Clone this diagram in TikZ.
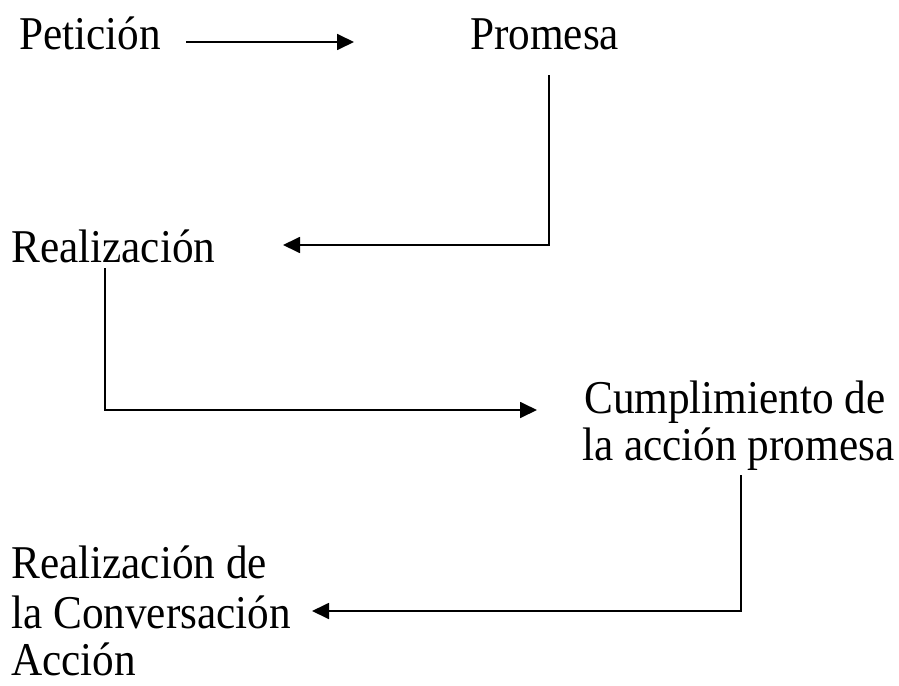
\documentclass[tikz,border=0pt]{standalone}
\usepackage{fontspec}
\setmainfont{Liberation Serif}[FakeStretch=0.92]
\usetikzlibrary{arrows.meta}
\tikzset{
  lbl/.style={anchor=base west, inner sep=0pt, font=\fontsize{47}{50}\selectfont},
  conn/.style={line width=1.8pt, -{Triangle[length=17pt,width=16pt]}}
}
\begin{document}
\begin{tikzpicture}[x=1pt,y=-1pt]
\useasboundingbox (0,0) rectangle (899,685);
% labels
\node[lbl] (pet) at (19,49) {Petición};
\node[lbl] (prom) at (470,49) {Promesa};
\node[lbl] (real) at (11,262) {Realización};
\node[lbl] (cumpA) at (584,413) {Cumplimiento de};
\node[lbl] (cumpB) at (582,460) {la acción promesa};
\node[lbl] (rcA) at (11,578) {Realización de};
\node[lbl] (rcB) at (11,628) {la Conversación};
\node[lbl, text depth=0pt] (rcC) at (11,675) {Acción};
% connector ends
\coordinate (p1s) at (186,42);
\coordinate (p1e) at (354,42);
\coordinate (p2s) at (549,75);
\coordinate (p2e) at (283,245);
\coordinate (p3s) at (105,268);
\coordinate (p3e) at (537,410);
\coordinate (p4s) at (741,475);
\coordinate (p4e) at (312,611);
% connectors
\draw[conn] (p1s) -- (p1e);
\draw[conn] (p2s) |- (p2e);
\draw[conn] (p3s) |- (p3e);
\draw[conn] (p4s) |- (p4e);
\end{tikzpicture}
\end{document}
